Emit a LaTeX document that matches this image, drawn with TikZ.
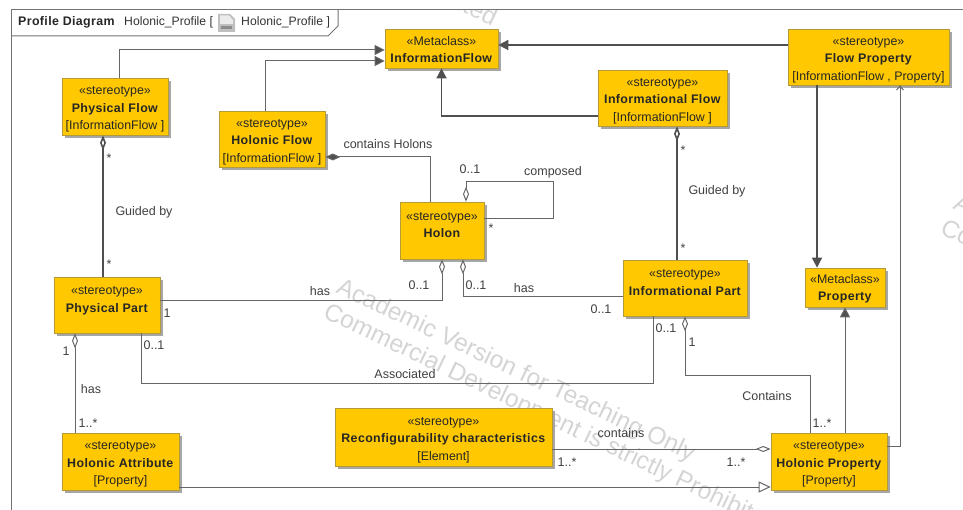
\documentclass[tikz,border=0pt]{standalone}
\usepackage{fontspec}
\setmainfont[BoldFeatures={LetterSpace=3}]{Liberation Sans}
\usetikzlibrary{arrows.meta,shadows,calc}
\definecolor{boxfill}{HTML}{FFC800}
\definecolor{boxline}{HTML}{B59A3C}
\definecolor{conn}{HTML}{666666}
\definecolor{connd}{HTML}{505050}
\newcommand{\lowerthree}{\rule{0pt}{14.5pt}}
\newcommand{\lowertwo}{\rule{0pt}{11.5pt}}
\tikzset{
  umlbox/.style={draw=boxline,fill=boxfill,line width=0.7pt,inner sep=0pt,align=center,
    font=\fontsize{12.4}{17.5}\selectfont,text=black!85,
    drop shadow={shadow xshift=3pt,shadow yshift=-3pt,fill=black!35,opacity=1}},
  rel/.style={draw=conn,line width=1pt},
  relthick/.style={draw=connd,line width=1.6pt},
  lbl/.style={inner sep=0pt,font=\fontsize{12.5}{13}\selectfont,text=black!75},
  wm/.style={inner sep=0pt,anchor=base west,rotate=-25.5,font=\fontsize{24.5}{26}\selectfont,text=black!17},
  solidtip/.style={-{Triangle[length=10pt,width=10pt,fill=connd]}},
  opentip/.style={-{Straight Barb[length=4pt,width=7pt]}},
  gentip/.style={-{Triangle[open,length=12pt,width=11pt,fill=white]}},
  aggtip/.style={{Diamond[open,length=15pt,width=6pt,fill=white]}-},
  comptip/.style={{Diamond[length=15pt,width=7pt,fill=connd]}-},
  frameline/.style={draw=black!55,line width=1pt}
}
\begin{document}
\begin{tikzpicture}[x=1pt,y=-1pt]
\useasboundingbox (0,0) rectangle (963,510);
\clip (0,0) rectangle (963,510);
% watermarks
\begin{scope}
\clip (11,10) rectangle (963,510);
\foreach \dx/\dy/\k in {0/0/a,617/-84/b,-617/93/c,-281/-506/d}{
  \node[wm] (wm1\k) at (335+\dx,292+\dy) {Academic Version for Teaching Only};
  \node[wm] (wm2\k) at (322+\dx,317+\dy) {Commercial Development is strictly Prohibited};
}
\end{scope}
% frame
\draw[frameline] (11,512) -- (11,10) -- (964,10);
\coordinate (tabA) at (11,36);
\coordinate (tabB) at (328,36);
\coordinate (tabC) at (338,26);
\coordinate (tabD) at (338,10);
\draw[frameline] (tabA) -- (tabB) -- (tabC) -- (tabD);
\node[anchor=base west,inner sep=0pt,font=\fontsize{12.4}{14}\selectfont\bfseries,text=black!85] (title) at (18,26) {Profile Diagram};
\node[anchor=base west,inner sep=0pt,font=\fontsize{12.2}{14}\selectfont,text=black!80] (titleA) at (124,26) {Holonic\_Profile [};
\node[anchor=base west,inner sep=0pt,font=\fontsize{12.2}{14}\selectfont,text=black!80] (titleB) at (241,26) {Holonic\_Profile ]};
\fill[black!25] (218,14) -- (230,14) -- (235,19) -- (235,32) -- (218,32) -- cycle;
\fill[black!8] (220,15.5) -- (229,15.5) -- (233,20) -- (233,24) -- (220,24) -- cycle;
\fill[black!45] (221,26) rectangle (232,29);
% boxes
\node[umlbox,minimum width=113pt,minimum height=39pt] (infoflowmeta) at (441.5,48.5) {\lowertwo«Metaclass»\\\textbf{InformationFlow}};
\node[umlbox,minimum width=106pt,minimum height=57pt] (pflow) at (115,106.5) {\lowerthree«stereotype»\\\textbf{Physical Flow}\\{[}InformationFlow{ ]}};
\node[umlbox,minimum width=106pt,minimum height=56pt] (hflow) at (272,139) {\lowerthree«stereotype»\\\textbf{Holonic Flow}\\{[}InformationFlow{ ]}};
\node[umlbox,minimum width=129pt,minimum height=56pt] (iflow) at (662.5,98) {\lowerthree«stereotype»\\\textbf{Informational Flow}\\{[}InformationFlow{ ]}};
\node[umlbox,minimum width=161pt,minimum height=56pt] (fprop) at (868.5,57) {\lowerthree«stereotype»\\\textbf{Flow Property}\\{[}InformationFlow , Property{]}};
\node[umlbox,minimum width=84pt,minimum height=57pt] (holon) at (442,230.5) {\lowerthree«stereotype»\\\textbf{Holon}\\~};
\node[umlbox,minimum width=106pt,minimum height=56pt] (ppart) at (107,305) {\lowerthree«stereotype»\\\textbf{Physical Part}\\~};
\node[umlbox,minimum width=124pt,minimum height=56pt] (ipart) at (685,288) {\lowerthree«stereotype»\\\textbf{Informational Part}\\~};
\node[umlbox,minimum width=80pt,minimum height=39pt] (propmeta) at (845,287.5) {\lowertwo«Metaclass»\\\textbf{Property}};
\node[umlbox,minimum width=117pt,minimum height=57pt] (hattr) at (120.5,461.5) {\lowerthree«stereotype»\\\textbf{Holonic Attribute}\\{[}Property{]}};
\node[umlbox,minimum width=217pt,minimum height=58pt] (reconf) at (443.5,437) {\lowerthree«stereotype»\\\textbf{Reconfigurability characteristics}\\{[}Element{]}};
\node[umlbox,minimum width=116pt,minimum height=57pt] (hprop) at (829,461.5) {\lowerthree«stereotype»\\\textbf{Holonic Property}\\{[}Property{]}};
% connectors
\draw[rel,solidtip] ([xshift=4pt]pflow.north) |- ([yshift=-1.5pt]infoflowmeta.west);
\draw[rel,solidtip] ([xshift=-7pt]hflow.north) |- ([yshift=-12.5pt]infoflowmeta.west);
\draw[relthick,solidtip] (iflow.west |- 0,116) -| (infoflowmeta.south);
\draw[relthick,solidtip] ([yshift=12pt]fprop.west) -- ([yshift=3.5pt]infoflowmeta.east);
\draw[relthick,solidtip] ([xshift=-51.5pt]fprop.south) -- ([xshift=-28pt]propmeta.north);
\draw[rel,opentip] ([yshift=15.5pt]hprop.east) -| ([xshift=31.5pt]fprop.south);
\draw[rel,solidtip] ([xshift=16pt]hprop.north) -- ([xshift=0pt]propmeta.south);
\draw[rel,aggtip] ([xshift=0pt]ipart.south) -- (685,375) -| ([xshift=-19pt]hprop.north);
\draw[rel] ([xshift=-32pt]ipart.south) -- (653,383) -| ([xshift=34pt]ppart.south);
\draw[rel,aggtip] (holon.south) -- (442,301) -- (ppart.east |- 0,301);
\draw[rel,aggtip] ([xshift=21pt]holon.south) -- (463,297) -- (ipart.west |- 0,297);
\draw[rel,comptip] (hflow.east |- 0,157) -| ([xshift=-12pt]holon.north);
\draw[rel,aggtip] ([xshift=24pt]holon.north) -- (466,182) -- (553,182) -- (553,219) -- (holon.east |- 0,219);
\draw[relthick,aggtip] ([xshift=-12pt]pflow.south) -- ([xshift=-4pt]ppart.north);
\draw[relthick,aggtip] ([xshift=14.5pt]iflow.south) -- ([xshift=-8pt]ipart.north);
\draw[rel,aggtip] ([xshift=-32pt]ppart.south) -- ([xshift=-45.5pt]hattr.north);
\draw[rel,aggtip] (hprop.west |- 0,449) -- (reconf.east |- 0,449);
\draw[rel,gentip] (hattr.east |- 0,487) -- (hprop.west |- 0,487);
% labels
\node[lbl] (l1) at (388,144) {contains Holons};
\node[lbl] (l2) at (470,169) {0..1};
\node[lbl] (l3) at (553,172) {composed};
\node[lbl] (l4) at (491,228) {*};
\node[lbl] (l5) at (144,212) {Guided by};
\node[lbl] (l6) at (109,158) {*};
\node[lbl] (l7) at (109,264) {*};
\node[lbl] (l8) at (717,191) {Guided by};
\node[lbl] (l9) at (683,150) {*};
\node[lbl] (l10) at (683,248) {*};
\node[lbl] (l11) at (320,291) {has};
\node[lbl] (l12) at (167,313) {1};
\node[lbl] (l13) at (419,285) {0..1};
\node[lbl] (l14) at (476,285) {0..1};
\node[lbl] (l15) at (524,288) {has};
\node[lbl] (l16) at (601,309) {0..1};
\node[lbl] (l17) at (666,328) {0..1};
\node[lbl] (l18) at (692,342) {1};
\node[lbl] (l19) at (154,345) {0..1};
\node[lbl] (l20) at (66,351) {1};
\node[lbl] (l21) at (91,389) {has};
\node[lbl] (l22) at (88,423) {1..*};
\node[lbl] (l23) at (405,374) {Associated};
\node[lbl] (l24) at (767,396) {Contains};
\node[lbl] (l25) at (822,423) {1..*};
\node[lbl] (l26) at (621,433) {contains};
\node[lbl] (l27) at (567,462) {1..*};
\node[lbl] (l28) at (736,462) {1..*};
\end{tikzpicture}
\end{document}
